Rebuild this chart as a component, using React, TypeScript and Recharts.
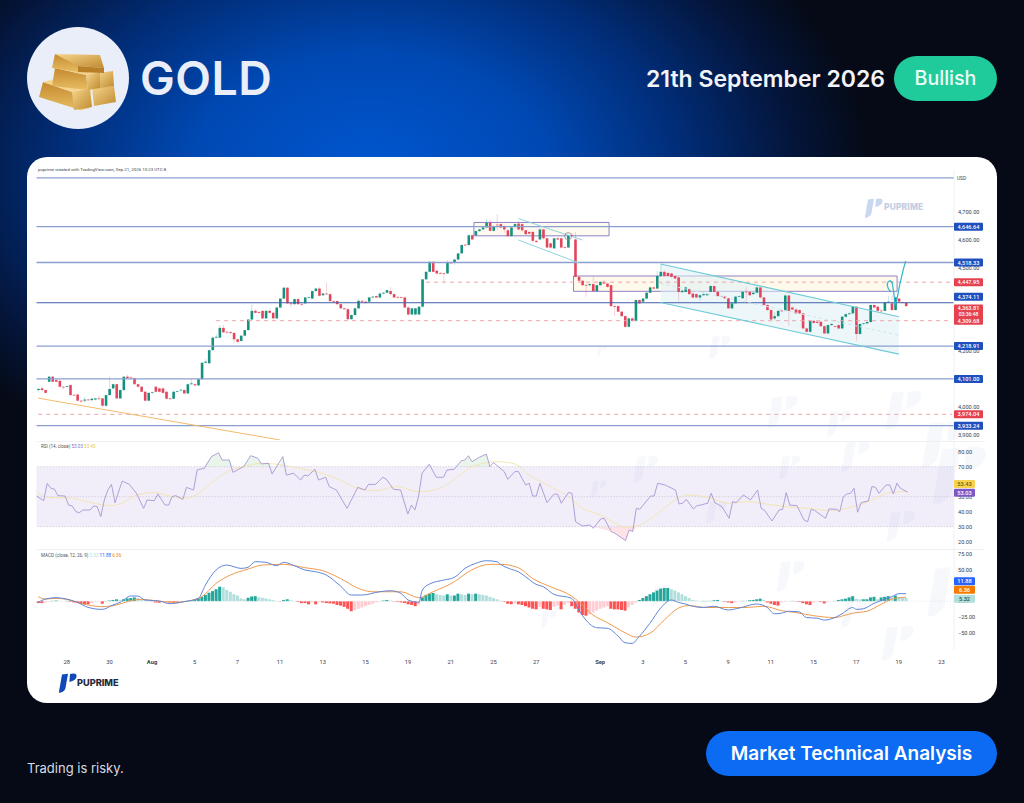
import { Area, Bar, Cell, ComposedChart, Line, ReferenceArea, ReferenceDot, ReferenceLine, Scatter, XAxis, YAxis } from 'recharts';

// --- price candles, one entry per 4h bar ---
const opens = [
  4061,4067,4061,4091,4109,4097,4094,4073,4073,4079, 4044,4045,4023,4023,4027,4025,4027,4031,4031,4005,
  4043,4067,4082,4031,4061,4109,4106,4104,4082,4073, 4055,4023,4051,4073,4067,4067,4055,4031,4030,4055,
  4060,4061,4049,4082,4082,4078,4100,4159,4157,4204, 4249,4249,4284,4270,4269,4266,4243,4237,4256,4276,
  4314,4345,4341,4345,4318,4345,4338,4318,4357,4389, 4428,4372,4369,4387,4370,4372,4392,4389,4416,4425,
  4401,4407,4405,4380,4380,4369,4354,4351,4315,4330, 4354,4381,4378,4378,4393,4398,4393,4407,4410,4416,
  4405,4395,4394,4393,4357,4332,4332,4332,4360,4458, 4485,4521,4489,4481,4480,4479,4518,4517,4529,4551,
  4582,4581,4616,4616,4631,4637,4644,4661,4632,4654, 4656,4649,4634,4613,4646,4658,4656,4634,4628,4628,
  4596,4601,4637,4605,4587,4569,4605,4605,4574,4572, 4617,4601,4467,4453,4438,4437,4441,4416,4437,4449,
  4443,4437,4362,4362,4342,4326,4288,4318,4309,4384, 4378,4389,4410,4429,4425,4470,4485,4481,4479,4470,
  4465,4412,4413,4423,4407,4405,4393,4401,4401,4413, 4434,4413,4398,4396,4390,4354,4372,4396,4390,4414,
  4413,4405,4410,4429,4393,4366,4348,4318,4326,4346, 4345,4400,4357,4350,4348,4336,4282,4270,4309,4306,
  4306,4290,4264,4294,4290,4294,4282,4324,4333,4336, 4360,4262,4298,4300,4305,4366,4360,4346,4345,4375,
  4372,4348,4389,4376,4374,
];
const closes = [
  4065,4061,4051,4109,4091,4091,4073,4071,4075,4043, 4042,4023,4020,4027,4025,4030,4031,4030,4005,4043,
  4065,4082,4031,4061,4109,4103,4104,4082,4073,4055, 4023,4051,4053,4055,4055,4051,4030,4029,4055,4057,
  4062,4049,4082,4085,4078,4100,4159,4163,4204,4249, 4252,4284,4268,4269,4266,4243,4234,4256,4276,4314,
  4345,4338,4338,4318,4345,4338,4318,4357,4389,4428, 4372,4369,4387,4369,4368,4393,4394,4416,4425,4399,
  4407,4405,4380,4378,4369,4354,4351,4315,4330,4354, 4381,4378,4374,4393,4396,4393,4407,4410,4419,4405,
  4393,4393,4392,4357,4332,4354,4354,4360,4458,4485, 4521,4485,4479,4479,4478,4517,4516,4529,4551,4581,
  4580,4616,4601,4631,4637,4644,4661,4632,4649,4652, 4644,4637,4613,4644,4656,4637,4634,4620,4622,4596,
  4592,4637,4605,4572,4572,4605,4601,4572,4572,4616, 4615,4467,4453,4437,4436,4441,4416,4437,4449,4443,
  4431,4362,4360,4342,4326,4288,4318,4309,4384,4372, 4389,4410,4429,4425,4470,4485,4470,4470,4467,4461,
  4413,4417,4429,4405,4393,4393,4401,4405,4405,4434, 4413,4398,4396,4390,4354,4372,4396,4398,4413,4412,
  4401,4410,4429,4393,4366,4348,4314,4326,4345,4344, 4400,4345,4350,4336,4336,4282,4270,4309,4302,4302,
  4290,4264,4294,4298,4288,4282,4324,4333,4336,4360, 4262,4298,4300,4305,4366,4357,4345,4344,4375,4378,
  4348,4393,4378,4374,4362,
];
const highs = [
  4070,4073,4063,4112,4112,4099,4097,4075,4078,4081, 4046,4048,4025,4036,4030,4033,4034,4042,4033,4045,
  4111,4085,4084,4064,4111,4116,4110,4106,4085,4076, 4058,4053,4056,4076,4070,4070,4058,4034,4058,4060,
  4065,4063,4085,4102,4085,4103,4161,4172,4207,4252, 4262,4294,4295,4274,4272,4268,4246,4258,4278,4316,
  4368,4352,4345,4348,4350,4355,4341,4360,4391,4431, 4431,4376,4390,4392,4374,4396,4397,4418,4428,4430,
  4410,4447,4407,4384,4383,4371,4357,4354,4333,4357, 4390,4385,4380,4396,4399,4401,4412,4413,4422,4430,
  4407,4398,4397,4396,4360,4356,4356,4362,4460,4488, 4523,4523,4491,4484,4483,4527,4522,4532,4553,4584,
  4586,4619,4619,4634,4640,4647,4674,4671,4652,4692, 4660,4653,4638,4646,4660,4668,4660,4637,4632,4631,
  4600,4640,4640,4608,4590,4608,4609,4608,4578,4618, 4625,4628,4470,4456,4442,4445,4468,4440,4452,4456,
  4446,4440,4365,4365,4345,4329,4321,4321,4386,4387, 4392,4413,4432,4432,4488,4513,4490,4484,4482,4474,
  4468,4420,4432,4426,4410,4408,4404,4408,4408,4437, 4437,4416,4401,4399,4393,4375,4399,4401,4416,4432,
  4416,4413,4432,4432,4396,4369,4351,4340,4348,4349, 4404,4403,4360,4353,4351,4339,4285,4312,4312,4309,
  4309,4293,4297,4301,4293,4297,4327,4336,4339,4363, 4363,4301,4303,4308,4369,4372,4363,4350,4378,4398,
  4400,4396,4392,4379,4378,
];
const lows = [
  4056,4056,4049,4088,4089,4089,4071,4063,4068,4041, 4040,4020,4017,4016,4022,4020,4024,4026,4000,4002,
  4040,4064,4028,4029,4058,4100,4101,4080,4070,4052, 4020,4021,4048,4052,4052,4049,4027,4027,4028,4052,
  4057,4046,4046,4079,4075,4075,4097,4154,4155,4202, 4246,4246,4265,4262,4260,4228,4230,4234,4253,4274,
  4311,4335,4335,4316,4315,4335,4314,4316,4354,4386, 4369,4358,4366,4366,4362,4368,4388,4386,4412,4396,
  4398,4402,4377,4374,4366,4351,4348,4312,4313,4327, 4351,4374,4371,4375,4390,4391,4390,4404,4407,4402,
  4391,4390,4389,4354,4329,4330,4328,4330,4357,4456, 4483,4482,4475,4475,4449,4476,4512,4510,4527,4549,
  4576,4578,4598,4613,4628,4634,4641,4629,4629,4634, 4640,4625,4610,4611,4643,4634,4628,4617,4618,4590,
  4588,4598,4600,4569,4568,4567,4597,4568,4568,4570, 4611,4465,4450,4434,4395,4432,4413,4412,4434,4440,
  4428,4359,4325,4339,4323,4285,4284,4306,4306,4369, 4375,4386,4407,4422,4422,4467,4467,4467,4464,4458,
  4378,4409,4410,4402,4390,4390,4382,4398,4398,4410, 4410,4395,4393,4387,4351,4351,4369,4393,4387,4370,
  4398,4402,4407,4390,4363,4345,4311,4310,4323,4341, 4342,4290,4347,4333,4333,4279,4267,4267,4299,4299,
  4287,4261,4261,4291,4285,4279,4279,4321,4330,4333, 4238,4259,4295,4297,4302,4354,4342,4341,4342,4372,
  4345,4345,4375,4371,4359,
];

// --- RSI, read at its turning points: bar number and value ---
const rsiBars = [
  0,2,3,4,5,6,8,9,10,11,12,13,15,16,17,18,19,20,21,22,24,26,28,30,31,33,34,36,37,38,39,41,42,44,45,47,49,51,52,54,55,58,60,62,63,65,66,69,70,72,74,75,76,78,79,81,82,84,87,90,92,93,95,97,98,100,102,104,105,106,107,108,110,112,114,115,117,119,120,121,122,124,126,127,128,131,132,134,135,137,138,139,140,141,143,145,146,147,149,150,151,153,155,156,158,159,161,162,165,166,167,168,169,172,173,174,176,177,179,180,181,182,184,185,186,188,189,190,192,194,195,196,198,200,202,203,204,206,208,209,210,211,213,215,216,217,218,221,222,224,225,226,227,228,229,230,231,233,234,235,236,238,239,240,241,242,244,
];
const rsiValues = [
  50.4,47.3,58.9,55.6,55.1,50.7,50.4,44.4,43.8,40,39.3,41.1,41.1,43.8,43.3,36.7,47.8,54.4,58.2,46,60.4,58.2,52.2,42.2,47.8,47.3,51.8,44.4,44.4,50,50.7,48.2,56.2,54.4,67.8,68.9,76.7,79.3,74.4,74.4,66.2,70,77.3,75.6,71.8,72.2,65.1,76.7,64.4,65.6,61.1,64.4,63.8,68.2,61.1,62.9,56.7,54.4,42.2,56.2,54.4,58.2,58.2,62.9,61.6,54.9,54.4,38.4,44.4,41.1,50,65.6,71.6,62.9,62.9,67.8,68.2,74,74.4,77.3,73.3,76.2,78.4,70,72.7,66.7,61.6,66.7,66.7,57.8,58.9,50.4,50.4,58.9,46,51.8,51.6,45.6,52.7,52.2,33.3,30.4,31.1,28.9,35.1,35.6,26.7,25.6,20.7,27.8,26.7,42.2,41.6,50.4,50.4,58.9,57.8,56.7,54.4,45.1,45.6,48.2,41.8,44,44.4,45.6,52.2,46,43.3,35.6,46.7,46,51.1,47.8,54.4,42.2,40.7,33.8,41.1,41.6,52.7,44.4,44,34.4,33.3,41.6,40.7,35.6,41.8,41.6,40,50,51.8,52.2,55.6,39.6,46,47.1,56.7,56.2,52.2,57.8,57.8,51.8,58.9,55.6,53.03,
];
const rsiMaBars = [0,3,10,16,21,24,28,33,38,42,46,50,54,58,63,69,75,80,85,90,95,101,107,113,118,122,129,134,138,144,149,153,158,163,165,169,174,179,182,188,194,199,205,210,216,223,227,233,239,244];
const rsiMaValues = [53.3,49.6,48.9,45.6,44,45.6,51.1,52.7,50,48.9,53.3,61.1,67.3,70,72.2,71.1,68.2,65.6,61.1,55.6,54,56.7,53.3,55.6,63.3,70,73.3,71.8,64.4,56.7,50,42.2,37.8,31.1,29.6,31.1,38.9,47.8,51.1,49.6,45.6,46.7,44.9,43.3,42.2,40.7,42.2,46.7,52.7,53.43];
// shaded caps where RSI leaves the 30-70 band
const overboughtBars = [47,49,51,52,54,55,58,60,62,63,65,66,68,69,70,109,110,111,118,119,120,121,122,124,126,127];
const overboughtValues = [70,76.7,79.3,74.4,74.4,70,70,77.3,75.6,71.8,72.2,70,70,76.7,70,70,71.6,70,70,74,74.4,77.3,73.3,76.2,78.4,70];
const oversoldBars = [156,161,162,165,166,167,168];
const oversoldValues = [30,26.7,25.6,20.7,27.8,26.7,30];

// --- MACD ---
const macdBars = [0,2,5,8,11,14,18,21,23,26,28,30,34,37,41,45,47,50,53,57,59,61,64,67,69,72,75,78,81,85,88,91,96,99,102,104,107,108,110,114,117,120,123,126,129,130,133,135,137,140,142,145,150,152,154,157,160,163,165,167,169,172,175,178,180,182,184,187,190,194,197,202,205,207,209,211,214,216,219,221,224,226,229,230,232,235,238,240,242,244];
const macdValues = [-1.9,3.4,5.6,3.4,-1.9,-9.8,-13,-6,-1.9,8.2,8.2,1.9,0.3,-4,-0.8,4.5,25.7,49.5,57.4,52.1,53.7,62.7,61.7,56.4,61.7,56.4,49.5,46.8,41.5,24,9.8,9.8,15,16.7,12.4,1.9,-1.9,17.7,27.2,33.6,37.8,52.1,60,64.3,62.7,58.5,50.6,46.8,39,26.7,23,10.9,4.5,-14,-30,-42,-43,-55,-66,-67,-56,-35,-11,2,-1.9,-4.5,-8,-10,-8,-14,-11,-4.5,-10,-20,-19,-16,-17,-26,-27,-30,-26,-20,-10,-13,-12,-3.4,3,7.1,12,11.88];
const signalBars = [0,2,5,8,12,18,22,26,29,33,38,43,46,50,54,59,63,69,75,80,85,90,94,102,107,111,117,121,127,130,135,139,144,150,152,156,160,165,168,172,176,180,183,188,194,199,204,209,213,218,224,227,229,233,237,240,244];
const signalValues = [7.1,3.4,4.5,2.9,-3.4,-8.7,-6,0.8,2.9,0.8,-1.9,1.3,7.1,28.3,41.5,51,57.4,58.5,53.2,48.4,36,20.4,15,15,5.6,15,30.9,46.8,58.5,58.5,53.2,36,23,8,-0.8,-22,-34,-50,-57,-51,-30,-11,-7,-10,-10,-10,-8,-15,-18,-23,-26,-22,-19,-16,-5,3.4,6.36];
const histogram = [
  -3,-3,-2,-1,0.5,1,0.5,0,0.5,-1, -2,-3,-4,-5,-5,-3,-1,-0.5,-4,-1,
  1,2,3,2,3,4.5,5,6,5,3, 2,1,-0.5,-2,-2.5,-1,-1,-2,-2.5,-2.5,
  -2,-1,0.5,1,3,4.5,7,10,13.5,16, 19,23,22,18,15,11,9,4.5,3,5.5,
  7.5,8,6.5,5.5,4.5,3,2,0.5,-0.5,2, 3,1.5,0.5,-1,-3,-3,-5,-2,-5,-1.5,
  -2,-3,-3.5,-4,-6,-7,-9,-12,-16,-14, -12,-10,-8,-6,-4,-2,-1,1,2,1,
  -0.5,-1,-2,-3,-5,-6,-8,-5,6,10, 12,13,11,10,9,11,9,9,12,11,
  10,12,11,12,11,10,9,7,5,3, 1,-1,-4,-5,-3,-5,-6,-8,-10,-12,
  -13,-9,-12,-13,-14,-9,-7,-13,-6,-3, -8,-12,-18,-22,-23,-21,-18,-15,-12,-10,
  -8,-12,-13,-13,-14,-15,-10,-6,-2,2, 5,8,11,14,17,20,21,21,19,17,
  14,11,8,5,2,1,0.5,0.5,0.5,0.5, 1.5,2,0.5,-1,-2,-3,-2,-0.5,0.5,0.5,
  1.5,2,3,4,2,-2,-4,-6,-7,-2, -1,-0.5,0.5,-0.5,-1,-3,-5,-6,-2,-1,
  -1,-3.5,-1,-0.5,0.5,2,3,4,6,8, 4,3,3,3,6,7,3,6,7,8,
  6,9,6,5.5,5.32,
];

// --- axes ---
const barSlots = 258;
const dateTicks = [8,20,32,44,56,68,80,92,104,116,128,140,158,170,182,194,206,218,230,242,254];
const dateLabels = ['28','30','Aug','5','7','11','13','15','19','21','25','27','Sep','3','5','9','11','15','17','19','23'];
const priceTicks = [3900,4000,4200,4500,4600,4700];
const rsiTicks = [20,30,40,50,70,80];
const macdTicks = [-50,-25,0,50,75];

// --- horizontal levels and trend drawings on the price pane ---
const blueLevels = [4822,4646.64,4518.33,4218.91,4101,3933.24];
const mainLevel = 4374.11;
const dashedLevels = [4447.95,4309.68,3974.04];
const dashedStartBars = [109,50,0];
const supplyBoxBars = [123,160];
const supplyBoxPrices = [4614,4662];
const resistBoxBars = [151,241];
const resistBoxPrices = [4415,4470];
const channelBars = [175,242];
const channelUpper = [4513,4324];
const channelLower = [4375,4190];
const channelMiddle = [4443,4258];
const flagUpperBars = [135,153];
const flagUpper = [4676,4599];
const flagLowerBars = [135,152];
const flagLower = [4599,4517];
const trendBars = [0,68];
const trendPrices = [4032,3882];
const pathBars = [239.7,239,238.7,239,239.5,240.1,240.3,240.6,240.9,241.4,242.3,243.2,243.9];
const pathPrices = [4413,4425,4440,4450,4453,4447,4431,4407,4366,4384,4443,4491,4523];

const fmt = (v: number) => v.toLocaleString('en-US', { minimumFractionDigits: 2, maximumFractionDigits: 2 }).replace('-', '\u2212');

const sparse = (bars: number[], values: number[]) => {
  const out: Record<number, number> = {};
  bars.forEach((b, k) => { out[b] = values[k]; });
  return out;
};
const rsiAt = sparse(rsiBars, rsiValues);
const rsiMaAt = sparse(rsiMaBars, rsiMaValues);
const obAt = sparse(overboughtBars, overboughtValues);
const osAt = sparse(oversoldBars, oversoldValues);
const macdAt = sparse(macdBars, macdValues);
const signalAt = sparse(signalBars, signalValues);
const upAt = sparse(channelBars, channelUpper);
const lowAt = sparse(channelBars, channelLower);

const rows = Array.from({ length: barSlots }, (_, i) => ({
  i,
  open: opens[i],
  close: closes[i],
  high: highs[i],
  low: lows[i],
  range: highs[i] === undefined ? null : [lows[i], highs[i]],
  channel: upAt[i] === undefined ? null : [lowAt[i], upAt[i]],
  rsi: rsiAt[i] ?? null,
  rsiMa: rsiMaAt[i] ?? null,
  ob: obAt[i] === undefined ? null : [70, obAt[i]],
  os: osAt[i] === undefined ? null : [osAt[i], 30],
  macd: macdAt[i] ?? null,
  signal: signalAt[i] ?? null,
  hist: histogram[i] ?? null,
}));
const pathPoints = pathBars.map((x, k) => ({ x, y: pathPrices[k] }));

const GREEN = '#17917f';
const RED = '#e2465c';
const FONT = 'Roboto, sans-serif';
const tickStyle = { fontSize: 5.6, fill: '#3c4250', fontFamily: FONT };

const Candle = (props: any) => {
  const { x, y, width, height, payload } = props;
  if (payload.open === undefined) return null;
  const top = Math.min(y, y + height);
  const h = Math.abs(height);
  const at = (v: number) => top + ((payload.high - v) / (payload.high - payload.low)) * h;
  const color = payload.close >= payload.open ? GREEN : RED;
  const bodyTop = at(Math.max(payload.open, payload.close));
  const bodyH = Math.max(Math.abs(at(payload.open) - at(payload.close)), 0.7);
  const cx = x + width / 2;
  return (
    <g>
      <line x1={cx} x2={cx} y1={top} y2={top + h} stroke={color} strokeOpacity={0.4} strokeWidth={0.6} />
      <rect x={cx - 1.3} y={bodyTop} width={2.6} height={bodyH} fill={color} />
    </g>
  );
};

const Tag = (props: any) => {
  const { viewBox, text, sub, bg, fg = '#fff', w = 29, dy = 0 } = props;
  const x = viewBox.x + viewBox.width;
  const y = viewBox.y + dy;
  const h = sub ? 14 : 8;
  return (
    <g fontFamily={FONT} fontSize={5.6} fontWeight={500}>
      <rect x={x} y={y - 4} width={w} height={h} rx={1} fill={bg} />
      <text x={x + w / 2} y={y + 2} textAnchor="middle" fill={fg}>{text}</text>
      {sub && <text x={x + w / 2} y={y + 8} textAnchor="middle" fill={fg} fontSize={5}>{sub}</text>}
    </g>
  );
};

const tagLine = (v: number, text: string, bg: string, extra: any = {}) => (
  <ReferenceLine key={text} y={v} stroke="none" label={<Tag text={text} bg={bg} {...extra} />} />
);

// price tags sit in their own pane on top, so they cover the axis numbers
const TagPane = ({ top, height, bottom = 0, domain, children }: any) => (
  <div style={{ position: 'absolute', left: 0, top }}>
    <ComposedChart width={1000} height={height} data={rows} margin={{ top: 0, right: 46, bottom, left: 36.5 }}>
      <XAxis dataKey="i" hide />
      <YAxis hide domain={domain} allowDataOverflow />
      {children}
    </ComposedChart>
  </div>
);

const DateTick = (props: any) => {
  const { x, y, payload } = props;
  const label = dateLabels[dateTicks.indexOf(payload.value)];
  const strong = label === 'Aug' || label === 'Sep';
  return (
    <text x={x} y={y + 6} textAnchor="middle" fontFamily={FONT} fontSize={5.8} fontWeight={strong ? 700 : 400} fill="#3c4250">
      {label}
    </text>
  );
};

const Logo = ({ x, y, s, color }: { x: number; y: number; s: number; color: string }) => (
  <svg style={{ position: 'absolute', left: x, top: y, overflow: 'visible' }} width={20 * s} height={20 * s} viewBox="0 0 20 20">
    <path d="M4 1.5 L10 0.8 L7.5 15 Q6.8 18 3 19.6 L0.8 19.8 Z" fill={color} />
    <path d="M12 1 Q18.5 -0.5 18.6 3 Q18.4 7.6 11.4 9 Z" fill={color} />
  </svg>
);

const marks = [
  [596, 345, 0.6], [708, 335, 1.2], [766, 395, 1.7], [826, 410, 1.3], [884, 390, 2], [920, 420, 2.4],
  [590, 480, 0.9], [632, 455, 1.4], [705, 500, 1.2], [778, 455, 1.2], [840, 440, 1.6], [885, 510, 1.6], [930, 445, 3],
  [540, 610, 0.9], [650, 585, 1.1], [775, 560, 1.6], [840, 600, 1.4], [880, 625, 1.8], [925, 565, 2.6],
];

const GoldIcon = () => (
  <svg style={{ position: 'absolute', left: 0, top: 0 }} width={130} height={130}>
    <defs>
      <linearGradient id="goldFront" x1="0" y1="0" x2="1" y2="1">
        <stop offset="0" stopColor="#f6d68f" />
        <stop offset="1" stopColor="#c08a2e" />
      </linearGradient>
      <linearGradient id="goldSide" x1="0" y1="0" x2="0" y2="1">
        <stop offset="0" stopColor="#c4892f" />
        <stop offset="1" stopColor="#e8bd62" />
      </linearGradient>
    </defs>
    {/* bottom row */}
    <polygon points="92,88 114,86 116,102 94,106" fill="url(#goldFront)" />
    <polygon points="39,97 43,82 72,92 90,108 80,110" fill="url(#goldSide)" />
    <polygon points="72,92 90,88 92,107 74,110" fill="url(#goldFront)" />
    <polygon points="43,82 58,78 90,88 72,92" fill="#f5d48e" />
    {/* middle row */}
    <polygon points="98,73 113,71 114,86 100,88" fill="url(#goldFront)" />
    <polygon points="52,86 55,68 86,75 88,90" fill="url(#goldSide)" />
    <polygon points="55,68 70,65 100,72 86,75" fill="#f3d088" />
    <polygon points="86,75 100,72 100,88 88,90" fill="url(#goldFront)" />
    {/* top bar */}
    <polygon points="52,68 55,54 78,60 78,72" fill="url(#goldSide)" />
    <polygon points="55,54 100,55 104,68 78,66" fill="url(#goldFront)" />
    <polygon points="78,66 104,68 104,73 78,72" fill="#b97f27" />
  </svg>
);

export default function App() {
  return (
    <div
      style={{
        position: 'absolute', left: 0, top: 0, width: 1024, height: 803, overflow: 'hidden',
        background: 'radial-gradient(ellipse 500px 330px at 370px 170px, #0056cf 0%, #0049b4 35%, #012d78 62%, #04153a 85%, #050a16 100%), #06080f',
        fontFamily: 'Inter, sans-serif',
      }}
    >
      <div style={{ position: 'absolute', left: 27, top: 27, width: 102, height: 102, borderRadius: '50%', background: '#e9eef8' }} />
      <GoldIcon />
      <div style={{ position: 'absolute', left: 140, top: 48, fontSize: 46.5, fontWeight: 600, color: '#e9eef8', letterSpacing: 0.5, lineHeight: '60px' }}>GOLD</div>
      <div style={{ position: 'absolute', left: 646, top: 64, fontSize: 23, fontWeight: 600, color: '#f2f4f8', lineHeight: '30px', whiteSpace: 'nowrap' }}>21th September 2026</div>
      <div style={{ position: 'absolute', left: 894, top: 56, width: 103, height: 45, borderRadius: 23, background: '#1fcb9b', color: '#eefcf7', fontSize: 19.6, fontWeight: 500, textAlign: 'center', lineHeight: '45px' }}>Bullish</div>

      <div style={{ position: 'absolute', left: 27, top: 157, width: 970, height: 546, borderRadius: 20, background: '#fff' }} />
      {marks.map(([x, y, s], k) => (
        <div key={k} style={{ opacity: 0.035 }}><Logo x={x} y={y} s={s} color="#2a5fc4" /></div>
      ))}
      <Logo x={864} y={198} s={1} color="#c9d8f0" />
      <div style={{ position: 'absolute', left: 884, top: 202, fontSize: 8.4, fontWeight: 800, color: '#c2cde0', letterSpacing: 0.2 }}>PUPRIME</div>

      <div style={{ position: 'absolute', left: 38, top: 167, fontSize: 4.4, color: '#444', fontFamily: FONT, whiteSpace: 'nowrap' }}>puprime created with TradingView.com, Sep 21, 2026 10:23 UTC-8</div>
      <div style={{ position: 'absolute', left: 957, top: 176, fontSize: 4.8, color: '#444', fontFamily: FONT }}>USD</div>

      {/* price pane */}
      <div style={{ position: 'absolute', left: 0, top: 170 }}>
        <ComposedChart width={1000} height={270} data={rows} barCategoryGap={0} margin={{ top: 0, right: 0, bottom: 0, left: 36.5 }}>
          <XAxis dataKey="i" hide />
          <XAxis xAxisId="num" type="number" dataKey="x" domain={[-0.5, 257.5]} allowDataOverflow hide />
          <YAxis orientation="right" width={46} domain={[3882, 4850]} allowDataOverflow ticks={priceTicks} tickFormatter={fmt} tick={tickStyle} tickSize={0} tickMargin={4} axisLine={{ stroke: '#eef0f4' }} tickLine={false} />

          <ReferenceArea x1={supplyBoxBars[0]} x2={supplyBoxBars[1]} y1={supplyBoxPrices[0]} y2={supplyBoxPrices[1]} fill="#fffaef" fillOpacity={1} stroke="#8274c0" strokeWidth={0.9} />
          <ReferenceArea x1={resistBoxBars[0]} x2={resistBoxBars[1]} y1={resistBoxPrices[0]} y2={resistBoxPrices[1]} fill="#fff9ec" fillOpacity={1} stroke="#8274c0" strokeWidth={0.9} />
          <Area dataKey="channel" connectNulls stroke="none" fill="#dff1f6" fillOpacity={0.55} isAnimationActive={false} dot={false} activeDot={false} />

          {blueLevels.map((v) => (
            <ReferenceLine key={v} y={v} stroke="#8b9fcf" strokeWidth={1.3} />
          ))}
          <ReferenceLine y={mainLevel} stroke="#3f60a8" strokeWidth={1} />
          {dashedLevels.map((v, k) => (
            <ReferenceLine key={v} segment={[{ x: dashedStartBars[k], y: v }, { x: barSlots - 1, y: v }]} stroke="#eba6ac" strokeWidth={1} strokeDasharray="4 4" />
          ))}
          <ReferenceLine segment={[{ x: trendBars[0], y: trendPrices[0] }, { x: trendBars[1], y: trendPrices[1] }]} stroke="#f2bb6d" strokeWidth={1} />

          <Bar dataKey="range" shape={<Candle />} isAnimationActive={false} />

          <ReferenceLine segment={[{ x: flagUpperBars[0], y: flagUpper[0] }, { x: flagUpperBars[1], y: flagUpper[1] }]} stroke="#8fd5df" strokeWidth={1} />
          <ReferenceLine segment={[{ x: flagLowerBars[0], y: flagLower[0] }, { x: flagLowerBars[1], y: flagLower[1] }]} stroke="#8fd5df" strokeWidth={1} />
          <ReferenceLine segment={[{ x: channelBars[0], y: channelUpper[0] }, { x: channelBars[1], y: channelUpper[1] }]} stroke="#6fcad8" strokeWidth={1.1} />
          <ReferenceLine segment={[{ x: channelBars[0], y: channelLower[0] }, { x: channelBars[1], y: channelLower[1] }]} stroke="#6fcad8" strokeWidth={1.1} />
          <ReferenceLine segment={[{ x: channelBars[0], y: channelMiddle[0] }, { x: channelBars[1], y: channelMiddle[1] }]} stroke="#c9e7ec" strokeWidth={1} strokeDasharray="3 3" />
          <ReferenceDot x={149} y={4613} r={3.5} fill="none" stroke="#8a8a8a" strokeWidth={0.8} />
          <Scatter xAxisId="num" data={pathPoints} dataKey="y" line={{ stroke: '#2cb6c9', strokeWidth: 1.2 }} shape={() => null} isAnimationActive={false} />
        </ComposedChart>
      </div>
      <TagPane top={170} height={270} domain={[3882, 4850]}>
        {tagLine(4646.64, '4,646.64', '#1f50bd')}
        {tagLine(4518.33, '4,518.33', '#1f50bd')}
        {tagLine(4447.95, '4,447.95', '#e5424f')}
        {tagLine(4374.11, '4,374.11', '#1f50bd', { dy: -6 })}
        {tagLine(4363.81, '4,363.81', '#e5424f', { dy: 2.8, sub: '03:36:48' })}
        {tagLine(4309.68, '4,309.68', '#e5424f')}
        {tagLine(4218.91, '4,218.91', '#1f50bd')}
        {tagLine(4101, '4,101.00', '#1f50bd')}
        {tagLine(3974.04, '3,974.04', '#e5424f')}
        {tagLine(3933.24, '3,933.24', '#1f50bd')}
      </TagPane>

      {/* RSI pane */}
      <div style={{ position: 'absolute', left: 0, top: 441 }}>
        <ComposedChart width={1000} height={108} data={rows} margin={{ top: 0, right: 0, bottom: 0, left: 36.5 }}>
          <XAxis dataKey="i" hide />
          <YAxis orientation="right" width={46} domain={[15.1, 87.1]} allowDataOverflow ticks={rsiTicks} tickFormatter={fmt} tick={tickStyle} tickSize={0} tickMargin={4} axisLine={{ stroke: '#eef0f4' }} tickLine={false} />
          <ReferenceArea y1={30} y2={70} fill="#7e57c2" fillOpacity={0.1} stroke="none" />
          {[70, 50, 30].map((v) => (
            <ReferenceLine key={v} y={v} stroke="#c9c5d6" strokeWidth={0.7} strokeDasharray="1.5 1.5" />
          ))}
          <Area dataKey="ob" connectNulls stroke="none" fill="#4caf50" fillOpacity={0.12} isAnimationActive={false} dot={false} activeDot={false} />
          <Area dataKey="os" connectNulls stroke="none" fill="#f23645" fillOpacity={0.14} isAnimationActive={false} dot={false} activeDot={false} />
          <Line dataKey="rsiMa" connectNulls stroke="#f3e3ae" strokeWidth={0.9} dot={false} activeDot={false} type="monotone" isAnimationActive={false} />
          <Line dataKey="rsi" connectNulls stroke="#a391d2" strokeWidth={0.85} dot={false} activeDot={false} isAnimationActive={false} />
        </ComposedChart>
      </div>
      <TagPane top={441} height={108} domain={[15.1, 87.1]}>
        {tagLine(53.43, '53.43', '#f6d24f', { w: 21, fg: '#6b5a10', dy: -7.6 })}
        {tagLine(53.03, '53.03', '#7e57c2', { w: 21, dy: 0.6 })}
      </TagPane>
      <div style={{ position: 'absolute', left: 41, top: 444, fontSize: 4.6, color: '#555', fontFamily: FONT, whiteSpace: 'nowrap' }}>
        RSI (14, close) <span style={{ color: '#8a72c4' }}>53.03</span> <span style={{ color: '#e7c84f' }}>53.43</span>
      </div>

      {/* MACD pane */}
      <div style={{ position: 'absolute', left: 0, top: 550 }}>
        <ComposedChart width={1000} height={118} data={rows} barCategoryGap="8%" margin={{ top: 0, right: 0, bottom: 0, left: 36.5 }}>
          <XAxis dataKey="i" ticks={dateTicks} interval={0} height={18} tick={<DateTick />} axisLine={false} tickLine={false} />
          <YAxis orientation="right" width={46} domain={[-77.5, 81.3]} allowDataOverflow ticks={macdTicks} tickFormatter={fmt} tick={tickStyle} tickSize={0} tickMargin={4} axisLine={{ stroke: '#eef0f4' }} tickLine={false} />
          <ReferenceLine y={0} stroke="#e2e4e8" strokeWidth={0.7} strokeDasharray="1.5 1.5" />
          <Bar dataKey="hist" isAnimationActive={false}>
            {rows.map((r, i) => {
              const prev = i > 0 && rows[i - 1].hist !== null ? (rows[i - 1].hist as number) : 0;
              const cur = r.hist ?? 0;
              const fill = cur >= 0 ? (cur >= prev ? '#26a69a' : '#b2dfdb') : cur <= prev ? '#ff5252' : '#ffcdd2';
              return <Cell key={i} fill={fill} />;
            })}
          </Bar>
          <Line dataKey="signal" connectNulls stroke="#ef9a4e" strokeWidth={1} dot={false} activeDot={false} type="monotone" isAnimationActive={false} />
          <Line dataKey="macd" connectNulls stroke="#5f86d8" strokeWidth={1} dot={false} activeDot={false} type="monotone" isAnimationActive={false} />
        </ComposedChart>
      </div>
      <TagPane top={550} height={118} bottom={18} domain={[-77.5, 81.3]}>
        {tagLine(11.88, '11.88', '#2962ff', { w: 21, dy: -12.4 })}
        {tagLine(6.36, '6.36', '#f57c00', { w: 21, dy: -7.5 })}
        {tagLine(5.32, '5.32', '#b2dfdb', { w: 21, fg: '#2d4c48', dy: 0.8 })}
      </TagPane>
      <div style={{ position: 'absolute', left: 41, top: 553, fontSize: 4.6, color: '#555', fontFamily: FONT, whiteSpace: 'nowrap' }}>
        MACD (close, 12, 26, 9) <span style={{ color: '#b2dfdb' }}>5.32</span> <span style={{ color: '#2962ff' }}>11.88</span> <span style={{ color: '#f57c00' }}>6.36</span>
      </div>

      <div style={{ position: 'absolute', left: 37, top: 441, width: 948, height: 1, background: '#eef0f4' }} />
      <div style={{ position: 'absolute', left: 37, top: 549, width: 948, height: 1, background: '#eef0f4' }} />

      <Logo x={58} y={673} s={1} color="#0f49b8" />
      <div style={{ position: 'absolute', left: 77, top: 677, fontSize: 9.2, fontWeight: 800, color: '#232a3a' }}>PUPRIME</div>

      <div style={{ position: 'absolute', left: 27, top: 760, fontSize: 13, color: '#d9dde4', whiteSpace: 'nowrap' }}>Trading is risky.</div>
      <div style={{ position: 'absolute', left: 706, top: 731, width: 291, height: 45, borderRadius: 23, background: '#0b6bf3', color: '#fff', fontSize: 19, fontWeight: 600, textAlign: 'center', lineHeight: '45px' }}>Market Technical Analysis</div>
    </div>
  );
}
